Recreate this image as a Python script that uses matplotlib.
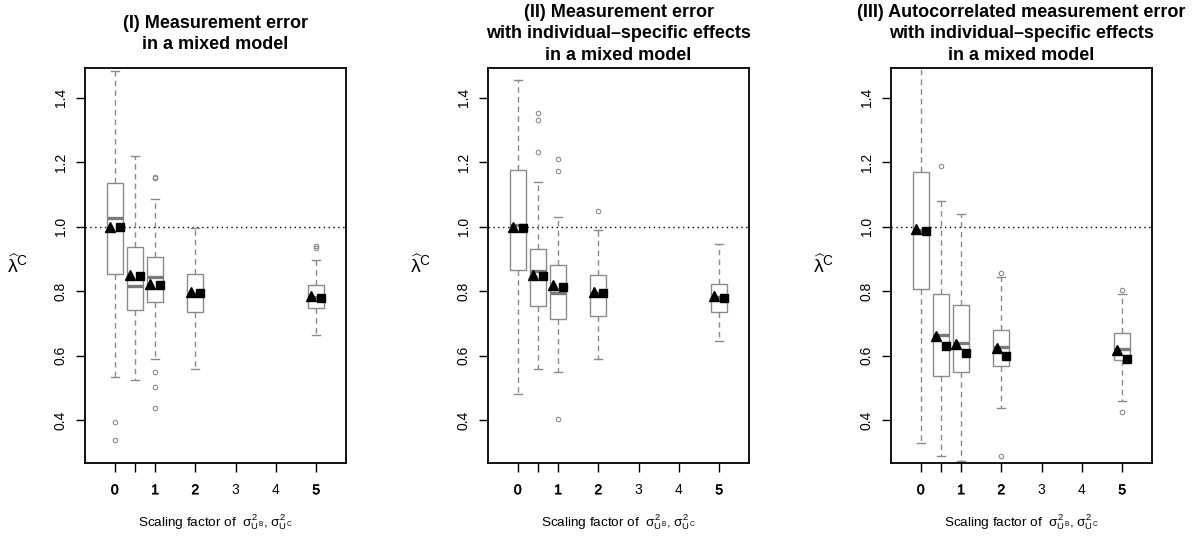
import matplotlib
matplotlib.use("Agg")
import matplotlib.pyplot as plt
import matplotlib.patheffects as pe

plt.rcParams['font.family'] = ['Liberation Sans', 'DejaVu Sans']
plt.rcParams['mathtext.fontset'] = 'custom'
plt.rcParams['mathtext.rm'] = 'Liberation Sans'
plt.rcParams['mathtext.it'] = 'Liberation Sans'
plt.rcParams['mathtext.bf'] = 'Liberation Sans:bold'
plt.rcParams['mathtext.sf'] = 'Liberation Sans'

# ---------------- data ----------------
positions = [0, 0.5, 1, 2, 5]
xtick_pos = [0, 0.5, 1, 2, 3, 4, 5]
xtick_labels = ['0', '', '1', '2', '3', '4', '5']
bold_labels = ['0', '1', '2', '5']
ytick_vals = [0.4, 0.6, 0.8, 1.0, 1.2, 1.4]
ytick_labels = ['0.4', '0.6', '0.8', '1.0', '1.2', '1.4']

titles = [
    "(I) Measurement error\nin a mixed model",
    "(II) Measurement error\nwith individual\u2013specific effects\nin a mixed model",
    "(III) Autocorrelated measurement error\nwith individual\u2013specific effects\nin a mixed model",
]

# Panel I
p1_whislo = [0.533, 0.525, 0.591, 0.559, 0.663]
p1_q1 = [0.853, 0.742, 0.767, 0.734, 0.749]
p1_med = [1.028, 0.816, 0.843, 0.792, 0.782]
p1_q3 = [1.136, 0.937, 0.906, 0.854, 0.820]
p1_whishi = [1.484, 1.218, 1.086, 0.997, 0.896]
p1_fliers = [[0.394, 0.339], [], [1.155, 1.150, 0.550, 0.504, 0.438], [], [0.939, 0.933]]
p1_triangle = [1.000, 0.851, 0.822, 0.797, 0.784]
p1_square = [0.998, 0.846, 0.818, 0.793, 0.779]

# Panel II
p2_whislo = [0.482, 0.559, 0.548, 0.588, 0.644]
p2_q1 = [0.867, 0.753, 0.715, 0.722, 0.734]
p2_med = [1.005, 0.861, 0.794, 0.793, 0.781]
p2_q3 = [1.177, 0.931, 0.881, 0.851, 0.823]
p2_whishi = [1.456, 1.137, 1.030, 0.991, 0.945]
p2_fliers = [[], [1.353, 1.330, 1.230], [1.210, 1.173, 0.405], [1.047], []]
p2_triangle = [1.000, 0.851, 0.820, 0.797, 0.784]
p2_square = [0.997, 0.846, 0.814, 0.793, 0.779]

# Panel III
p3_whislo = [0.329, 0.289, 0.274, 0.437, 0.458]
p3_q1 = [0.807, 0.536, 0.550, 0.569, 0.585]
p3_med = [0.990, 0.665, 0.638, 0.626, 0.621]
p3_q3 = [1.171, 0.791, 0.756, 0.681, 0.670]
p3_whishi = [1.650, 1.078, 1.038, 0.844, 0.791]
p3_fliers = [[], [1.189], [], [0.856, 0.290], [0.805, 0.425]]
p3_triangle = [0.992, 0.662, 0.637, 0.624, 0.616]
p3_square = [0.988, 0.631, 0.608, 0.598, 0.591]

panels = [
    (p1_whislo, p1_q1, p1_med, p1_q3, p1_whishi, p1_fliers, p1_triangle, p1_square),
    (p2_whislo, p2_q1, p2_med, p2_q3, p2_whishi, p2_fliers, p2_triangle, p2_square),
    (p3_whislo, p3_q1, p3_med, p3_q3, p3_whishi, p3_fliers, p3_triangle, p3_square),
]

# ---------------- figure ----------------
W, H = 1200, 536
fig = plt.figure(figsize=(12, 5.36), dpi=100)
lefts_px = [85, 488, 891]
ax_w_px = 261
ax_top_px, ax_bot_px = 68, 463

box_col = '#8a8a8a'
med_col = '#7a7a7a'

for i, (left_px, data) in enumerate(zip(lefts_px, panels)):
    whislo, q1, med, q3, whishi, fliers, tri, sq = data
    ax = fig.add_axes([left_px / W, 1 - ax_bot_px / H, ax_w_px / W, (ax_bot_px - ax_top_px) / H])
    stats = []
    for k in range(len(positions)):
        stats.append(dict(whislo=whislo[k], q1=q1[k], med=med[k], q3=q3[k],
                          whishi=whishi[k], fliers=fliers[k]))
    ax.bxp(stats, positions=positions, widths=0.4, capwidths=0.2,
           patch_artist=True, manage_ticks=False,
           boxprops=dict(facecolor='white', edgecolor=box_col, linewidth=1.0),
           medianprops=dict(color=med_col, linewidth=2.4, solid_capstyle='butt'),
           whiskerprops=dict(color=box_col, linewidth=1.0, linestyle=(0, (4, 3))),
           capprops=dict(color=box_col, linewidth=1.0),
           flierprops=dict(marker='o', markersize=3.2, markerfacecolor='none',
                           markeredgecolor=box_col, markeredgewidth=0.8, linestyle='none'))
    ax.axhline(1.0, color='black', linestyle=(0, (1, 2.5)), linewidth=1.0, zorder=1)
    ax.plot([p - 0.12 for p in positions], tri, linestyle='none', marker='^',
            color='black', markersize=7, zorder=5)
    ax.plot([p + 0.12 for p in positions], sq, linestyle='none', marker='s',
            color='black', markersize=6, zorder=5)

    ax.set_xlim(-0.74, 5.74)
    ax.set_ylim(0.267, 1.492)
    ax.set_xticks(xtick_pos)
    ax.set_xticklabels(xtick_labels, fontsize=10)
    for lab in ax.get_xticklabels():
        if lab.get_text() in bold_labels:
            lab.set_path_effects([pe.withStroke(linewidth=0.4, foreground='black')])
    ax.set_yticks(ytick_vals)
    ax.set_yticklabels(ytick_labels, fontsize=10, rotation=90, va='center')
    ax.tick_params(axis='both', direction='out', length=6.5, width=1.0, color='black')
    ax.tick_params(axis='x', pad=8)
    ax.tick_params(axis='y', pad=6)
    for s in ax.spines.values():
        s.set_linewidth(1.3)

    ax.set_xlabel(r'Scaling factor of  $\sigma^2_{U^B}$, $\sigma^2_{U^C}$', fontsize=9.7)
    ax.xaxis.set_label_coords(0.5, -(522 - ax_bot_px) / (ax_bot_px - ax_top_px))
    ax.xaxis.label.set_va('center')
    ax.set_ylabel(r'$\widehat{\lambda}^C$', fontsize=14, rotation=0, va='center', ha='center')
    ax.yaxis.set_label_coords(-67 / ax_w_px, 0.5)

    fig.text((left_px + ax_w_px / 2) / W, 1 - 34 / H, titles[i], ha='center', va='center',
             multialignment='center', fontsize=13.0, fontweight='bold', linespacing=1.34)

fig.savefig('out.png', dpi=100)
